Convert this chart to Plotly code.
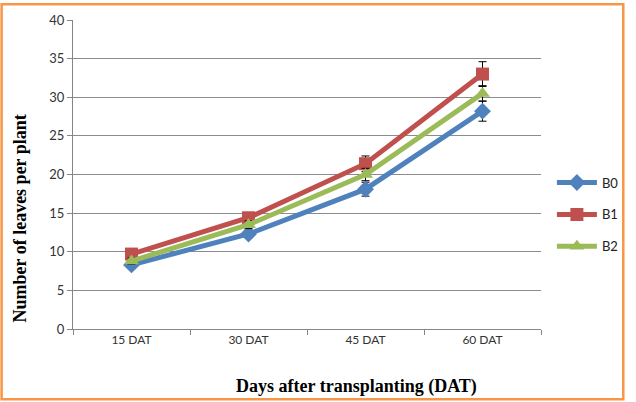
import plotly.graph_objects as go

categories = ["15 DAT", "30 DAT", "45 DAT", "60 DAT"]
b0 = [8.3, 12.3, 18.1, 28.2]
b1 = [9.7, 14.4, 21.4, 33.0]
b2 = [8.8, 13.5, 20.0, 30.5]
b0_err = [0.4, 0.5, 0.9, 1.3]
b1_err = [0.4, 0.5, 1.0, 1.6]
b2_err = [0.4, 0.5, 0.8, 1.0]
series_names = ["B0", "B1", "B2"]
y_ticks = [0, 5, 10, 15, 20, 25, 30, 35, 40]

colors = ["#4F81BD", "#C0504D", "#9BBB59"]
symbols = ["diamond", "square", "triangle-up"]

fig = go.Figure()
for name, vals, errs, col, sym in zip(series_names, [b0, b1, b2], [b0_err, b1_err, b2_err], colors, symbols):
    fig.add_trace(go.Scatter(
        x=categories, y=vals, name=name, mode="lines+markers", legendgroup=name,
        line=dict(color=col, width=5),
        marker=dict(symbol=sym, size=13, color=col),
        error_y=dict(type="data", array=errs, color="black", thickness=1, width=4),
    ))

W, H = 636, 402
L, R, T, B = 73, 91, 17, 73
pw, ph = W - L - R, H - T - B

def px_x(p):
    return (p - L) / pw

def px_y(p):
    return 1 - (p - T) / ph

fig.update_layout(
    width=W, height=H,
    margin=dict(l=L, r=R, t=T, b=B),
    paper_bgcolor="white", plot_bgcolor="white",
    font=dict(family="Lato, Open Sans, sans-serif", size=12, color="#333333"),
    showlegend=True,
    legend=dict(x=px_x(556), y=px_y(166), xanchor="left", yanchor="top",
                font=dict(size=13, color="#222222"), tracegroupgap=12,
                itemwidth=40, bgcolor="rgba(0,0,0,0)"),
    xaxis=dict(range=[-0.5, 3.5], showgrid=False, showline=True, linecolor="#868686",
               ticks="outside", tickson="boundaries", ticklen=5, tickcolor="#868686",
               tickfont=dict(size=12, color="#333333")),
    yaxis=dict(range=[0, 40], tickvals=y_ticks, showgrid=True, gridcolor="#8C8C8C", gridwidth=1,
               showline=True, linecolor="#868686", ticks="outside", ticklen=5, tickcolor="#868686",
               zeroline=False, tickfont=dict(size=13, color="#333333")),
    annotations=[
        dict(text="<b>Days after transplanting (DAT)</b>", x=px_x(359), y=px_y(387),
             xref="paper", yref="paper", showarrow=False, xanchor="center", yanchor="middle",
             font=dict(family="Liberation Serif", size=18, color="black")),
        dict(text="<b>Number of leaves per plant</b>", x=px_x(20), y=px_y(217),
             xref="paper", yref="paper", showarrow=False, xanchor="center", yanchor="middle",
             textangle=-90, font=dict(family="Liberation Serif", size=18, color="black")),
    ],
    shapes=[
        dict(type="rect", xref="paper", yref="paper",
             x0=px_x(1), x1=px_x(628), y0=px_y(1), y1=px_y(400),
             line=dict(color="#F79646", width=2.5), fillcolor="rgba(0,0,0,0)", layer="above"),
    ],
)

fig.write_html("out.html")
